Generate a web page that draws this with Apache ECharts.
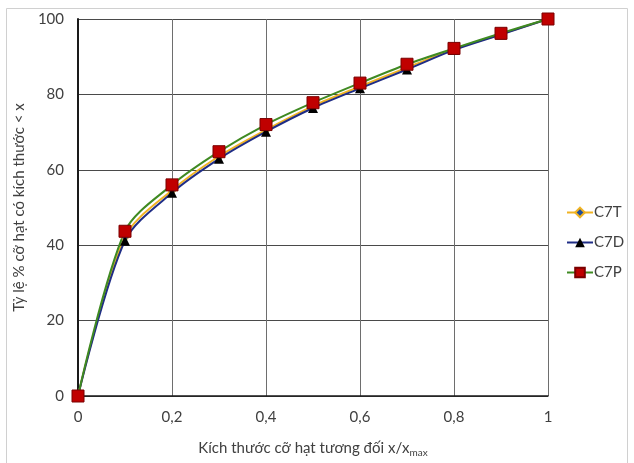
<!DOCTYPE html>
<html>
<head>
<meta charset="utf-8">
<script src="https://cdn.jsdelivr.net/npm/echarts@6/dist/echarts.min.js"></script>
<style>
  html, body { margin: 0; padding: 0; background: #fff; }
  #chart { width: 634px; height: 463px; }
</style>
</head>
<body>
<div id="chart"></div>
<script>
// Relative particle size x/xmax
const sizes = [0, 0.1, 0.2, 0.3, 0.4, 0.5, 0.6, 0.7, 0.8, 0.9, 1];
// Cumulative % of particles smaller than x
const c7t = [0, 42.2, 54.6, 63.6, 70.6, 76.9, 82.1, 87.1, 92.0, 96.0, 100];
const c7d = [0, 41.2, 53.9, 62.9, 70.1, 76.4, 81.6, 86.6, 91.8, 95.9, 100];
const c7p = [0, 43.7, 56.0, 64.8, 72.0, 77.8, 83.0, 88.0, 92.2, 96.2, 100];
const seriesNames = ['C7T', 'C7D', 'C7P'];
const xTicks = { 0: '0', 0.2: '0,2', 0.4: '0,4', 0.6: '0,6', 0.8: '0,8', 1: '1' };

const font = 'Lato, "Open Sans", sans-serif';
const pairs = vals => sizes.map((x, i) => [x, vals[i]]);

const chart = echarts.init(document.getElementById('chart'));
chart.setOption({
  animation: false,
  backgroundColor: '#fff',
  textStyle: { fontFamily: font },
  graphic: [{
    type: 'rect',
    shape: { x: 6.5, y: 8.5, width: 621, height: 470 },
    style: { fill: 'none', stroke: '#d0d0d0', lineWidth: 1 },
    silent: true
  }],
  grid: { left: 78, right: 86, top: 19, bottom: 64 },
  legend: {
    orient: 'vertical',
    left: 561,
    top: 200,
    itemWidth: 26,
    itemHeight: 12,
    itemGap: 15,
    textStyle: { fontSize: 15, color: '#404040', fontFamily: font, padding: [0, 0, 0, -4] },
    data: seriesNames
  },
  xAxis: {
    type: 'value', min: 0, max: 1, interval: 0.2,
    name: '{a|Kích thước cỡ hạt tương đối x/x}{s|max}',
    nameLocation: 'middle', nameGap: 43,
    nameTextStyle: {
      rich: {
        a: { fontSize: 15, color: '#404040', fontFamily: font },
        s: { fontSize: 10, color: '#404040', fontFamily: font, padding: [9, 0, 0, 0] }
      }
    },
    axisLine: { lineStyle: { color: '#1a1a1a', width: 1.5 } },
    axisTick: { show: false },
    axisLabel: { fontSize: 15, color: '#404040', margin: 14, formatter: v => xTicks[v] !== undefined ? xTicks[v] : '' },
    splitLine: { lineStyle: { color: '#6e6e6e', width: 1 } }
  },
  yAxis: {
    type: 'value', min: 0, max: 100, interval: 20,
    name: 'Tỷ lệ % cỡ hạt có kích thước < x',
    nameLocation: 'middle', nameGap: 40,
    nameTextStyle: { fontSize: 15, color: '#404040', fontFamily: font },
    axisLine: { show: true, lineStyle: { color: '#1a1a1a', width: 2 } },
    axisTick: { show: false },
    axisLabel: { fontSize: 15, color: '#404040', margin: 14 },
    splitLine: { lineStyle: { color: '#4a4a4a', width: 1 } }
  },
  series: [
    {
      name: 'C7T', type: 'line', smooth: 0.3, data: pairs(c7t),
      lineStyle: { color: '#f0b323', width: 2 },
      symbol: 'diamond', symbolSize: 9,
      itemStyle: { color: '#1f4e9c', borderColor: '#f0b323', borderWidth: 1 }
    },
    {
      name: 'C7D', type: 'line', smooth: 0.3, data: pairs(c7d),
      lineStyle: { color: '#1f2d86', width: 2 },
      symbol: 'triangle', symbolSize: 10,
      itemStyle: { color: '#000000', borderColor: '#000000', borderWidth: 0 }
    },
    {
      name: 'C7P', type: 'line', smooth: 0.3, data: pairs(c7p),
      lineStyle: { color: '#3f8a22', width: 2 },
      symbol: 'rect', symbolSize: 12,
      itemStyle: { color: '#c00000', borderColor: '#7a0000', borderWidth: 1 }
    }
  ]
});
</script>
</body>
</html>
